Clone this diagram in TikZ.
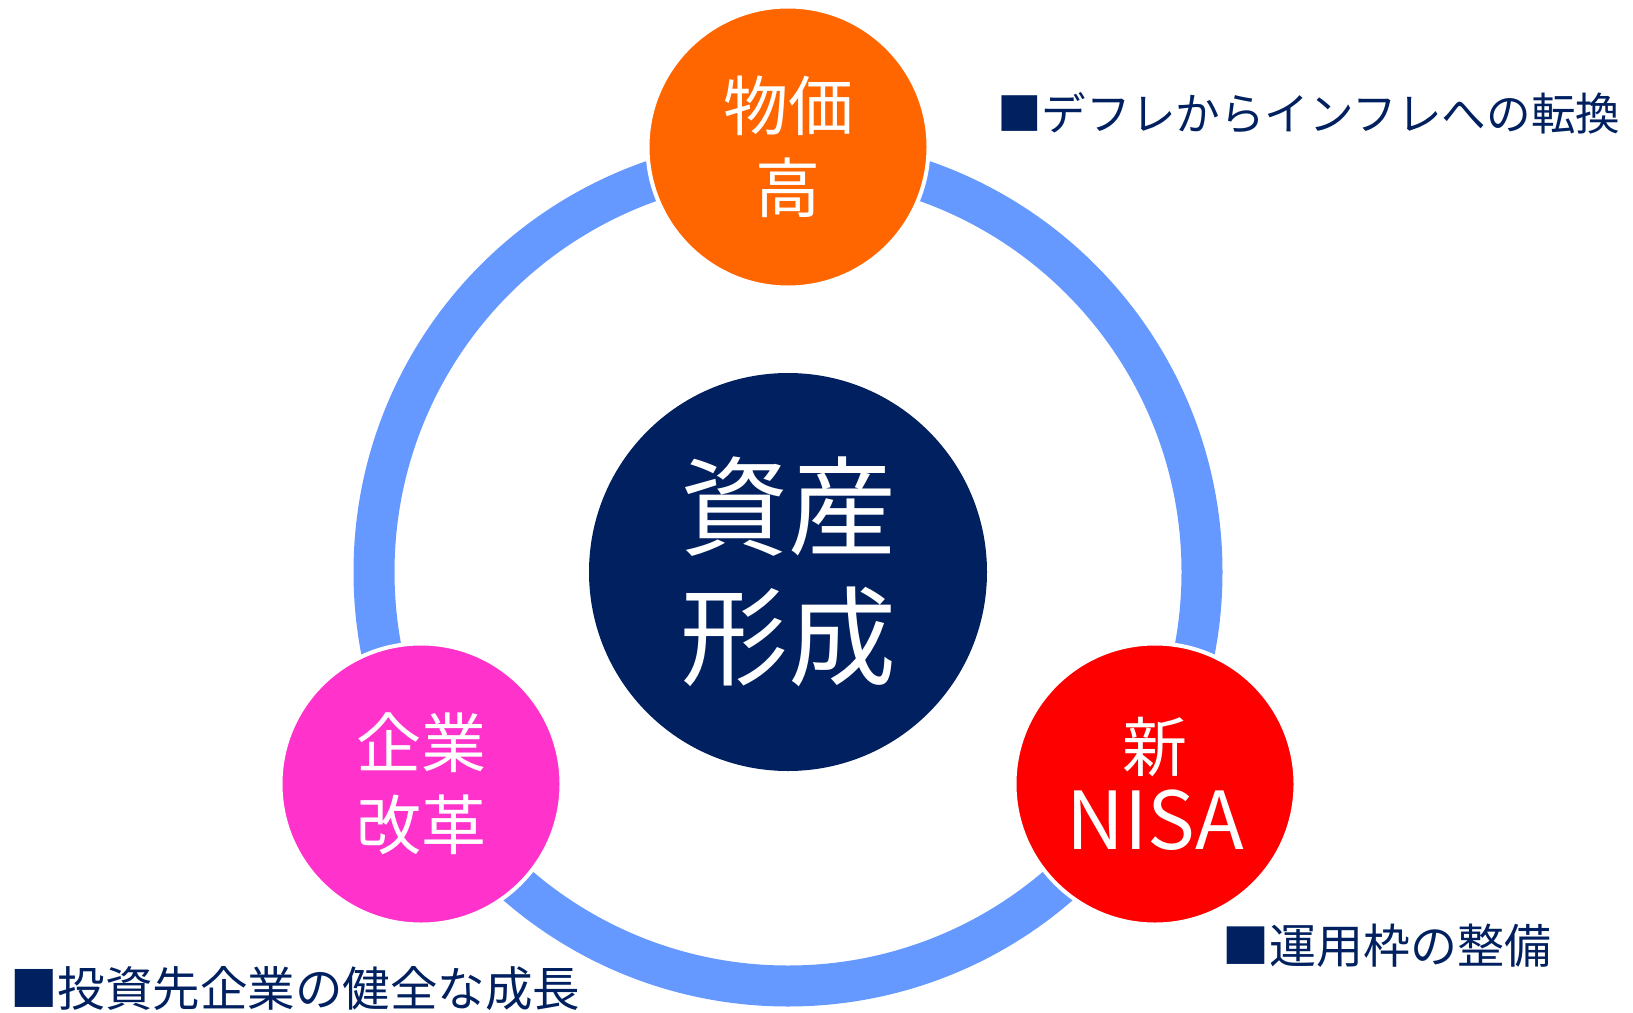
\documentclass[tikz,border=0pt]{standalone}
\usepackage{fontspec}
\setmainfont{Noto Sans CJK JP}
\definecolor{ringblue}{HTML}{6699FF}
\definecolor{navy}{HTML}{002060}
\definecolor{orng}{HTML}{FF6600}
\definecolor{pnk}{HTML}{FF33CC}
\definecolor{rd}{HTML}{FF0000}
\begin{document}
\begin{tikzpicture}[x=1pt,y=-1pt,
  satellite/.style={circle,draw=white,line width=4pt,minimum size=281pt,inner sep=0pt,
    text=white,align=center,font=\fontsize{65}{82}\selectfont},
  hub/.style={circle,fill=navy,minimum size=398pt,inner sep=0pt,
    text=white,align=center,font=\fontsize{108}{130}\selectfont},
  note/.style={anchor=west,text=navy,inner sep=0pt}]
\useasboundingbox (0,0) rectangle (1633,1012);
\coordinate (c) at (788,572);
\draw[ringblue,line width=41pt] (c) circle[radius=414pt];
\node[hub] (core) at (c) {資産\\形成};
\node[satellite,fill=orng] (price) at (788,147) {物価\\高};
\node[satellite,fill=pnk] (corp) at (421,784) {企業\\改革};
\node[satellite,fill=rd] (nisa) at (1155,784) {新\\[-4pt]{\fontsize{80}{84}\selectfont NISA}};
\node[note,font=\fontsize{44.6}{50}\selectfont] (n1) at (997,113) {■デフレからインフレへの転換};
\node[note,font=\fontsize{47}{52}\selectfont] (n2) at (1222,946) {■運用枠の整備};
\node[note,font=\fontsize{47.5}{52}\selectfont] (n3) at (10,989) {■投資先企業の健全な成長};
\end{tikzpicture}
\end{document}
